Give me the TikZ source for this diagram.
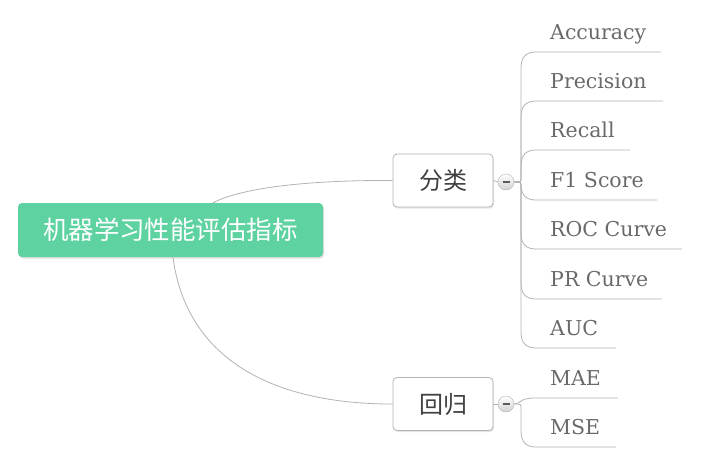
\documentclass[tikz,border=0pt]{standalone}
\usepackage{fontspec}
\usepackage{tikz}
\usetikzlibrary{shadows}
\newfontfamily\cjk{Noto Sans CJK SC}
\newfontfamily\leaffont{DejaVu Serif}
\definecolor{rootgreen}{RGB}{94,211,161}
\definecolor{linegray}{RGB}{178,178,178}
\definecolor{textgray}{RGB}{105,105,105}

\tikzset{
  rootbox/.style={fill=rootgreen, rounded corners=4pt, minimum width=305pt, minimum height=54pt,
    inner sep=0pt, text=white, font=\cjk\fontsize{25.5}{25.5}\selectfont,
    drop shadow={opacity=0.25, shadow xshift=1pt, shadow yshift=-1.5pt}},
  topicbox/.style={draw=linegray, fill=white, line width=0.8pt, rounded corners=4pt,
    minimum width=100pt, minimum height=53pt, inner sep=0pt, text=black!75,
    font=\cjk\fontsize{24}{24}\selectfont,
    drop shadow={opacity=0.2, shadow xshift=1pt, shadow yshift=-1.5pt}},
  foldbtn/.style={circle, draw=linegray, top color=white, bottom color=black!18,
    minimum size=16pt, inner sep=0pt},
  leaf/.style={anchor=base west, inner sep=0pt, text=textgray, font=\leaffont\fontsize{20.5}{20.5}\selectfont},
  branch/.style={draw=linegray, line width=0.8pt}
}

\begin{document}
\begin{tikzpicture}[x=1pt, y=-1pt]
  \useasboundingbox (0,0) rectangle (713,467);

  % Nodes
  \node[rootbox] (root) at (170.5,230) {机器学习性能评估指标};
  \node[topicbox] (cls) at (443,180.5) {分类};
  \node[topicbox] (reg) at (443,404) {回归};
  \node[foldbtn] (fcls) at (506,182) {};
  \node[foldbtn] (freg) at (506,404) {};
  \draw[black!65, line width=1.6pt] ([xshift=-3.5pt]fcls.center) -- ([xshift=3.5pt]fcls.center);
  \draw[black!65, line width=1.6pt] ([xshift=-3.5pt]freg.center) -- ([xshift=3.5pt]freg.center);

  % Main connectors
  \draw[branch] ([xshift=42.5pt]root.north) .. controls (245,186) and (320,180) .. (cls.west);
  \draw[branch] ([xshift=2.5pt]root.south) .. controls (185,350) and (260,404) .. (reg.west);
  \draw[branch] (cls.east) -- (fcls.west);
  \draw[branch] (reg.east) -- (freg.west);

  % Classification leaves
  \foreach \name/\txt/\y/\xe in {acc/Accuracy/52/661, pre/Precision/101/663, rec/Recall/150/630,
      fone/F1 Score/200/657, roc/ROC Curve/249/682, prc/PR Curve/299/662, auc/AUC/348/616} {
    \node[leaf] (\name) at (550,\y-13) {\txt};
    \coordinate (\name e) at (\xe,\y);
    \pgfmathsetmacro\s{sign(\y-182)}
    \draw[branch] (fcls.east) .. controls (521,182) .. (521,182+5*\s)
      -- (521,\y-16*\s) .. controls (521,\y-5*\s) and (526,\y) .. (536,\y) -- (\name e);
  }

  % Regression leaves
  \node[leaf] (mae) at (550,385) {MAE};
  \node[leaf] (mse) at (550,434) {MSE};
  \coordinate (maee) at (618,398);
  \coordinate (msee) at (616,447);
  \draw[branch] (freg.east) .. controls (521,404) and (519,398) .. (535,398) -- (maee);
  \draw[branch] (freg.east) .. controls (521,404) .. (521,409)
    -- (521,431) .. controls (521,442) and (526,447) .. (536,447) -- (msee);
\end{tikzpicture}
\end{document}
